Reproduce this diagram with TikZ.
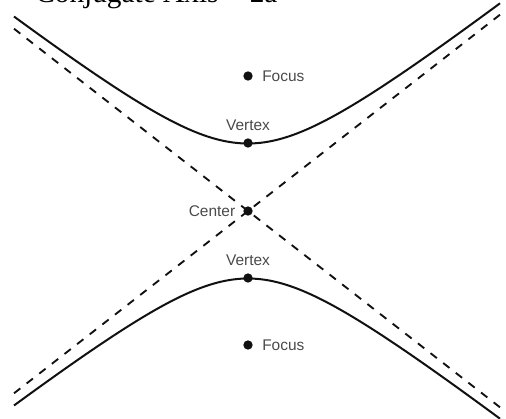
\documentclass[tikz,border=0pt]{standalone}
\usepackage{fontspec}
\setmainfont{Liberation Serif}
\setsansfont{Liberation Sans}
\usetikzlibrary{positioning}
\definecolor{ink}{HTML}{111111}
\definecolor{labelgray}{HTML}{4A4A4A}
\tikzset{
  dot/.style={circle,fill=ink,inner sep=0pt,minimum size=7pt},
  lbl/.style={font=\sffamily\fontsize{11.6}{12}\selectfont,text=labelgray,inner sep=0pt},
  branch/.style={ink,line width=1.5pt},
  asym/.style={ink,line width=1.4pt,dash pattern=on 6pt off 6pt}
}

\begin{document}
\begin{tikzpicture}[x=0.75pt,y=-0.75pt,line cap=butt,line join=round]
  \useasboundingbox (0,0) rectangle (506,418);
  % cut-off heading
  \node[anchor=base west,inner sep=0pt,font=\fontsize{22}{22}\selectfont] (heading) at (35,2) {Conjugate Axis = 2a};
  % asymptotes
  \coordinate (ul) at (14,28.7);  \coordinate (lr) at (500,407.3);
  \coordinate (ll) at (14,393.3); \coordinate (ur) at (500,14.7);
  \draw[asym] (ul) -- (lr);
  \draw[asym] (ll) -- (ur);
  % branches
  \draw[branch] plot[domain=-234:252,samples=121,smooth] ({248+\x},{211-67.5*sqrt(1+(\x/86.6)^2)});
  \draw[branch] plot[domain=-234:252,samples=121,smooth] ({248+\x},{211+67.5*sqrt(1+(\x/86.6)^2)});
  % points
  \node[dot] (ftop) at (248,76) {};
  \node[dot] (vtop) at (248,143) {};
  \node[dot] (ctr)  at (248,211) {};
  \node[dot] (vbot) at (248,278) {};
  \node[dot] (fbot) at (248,345) {};
  \node[lbl,right=6.8pt of ftop] (ftoplbl) {Focus};
  \node[lbl,right=6.8pt of fbot] (fbotlbl) {Focus};
  \node[lbl,above=5.5pt of vtop] (vtoplbl) {Vertex};
  \node[lbl,above=5.5pt of vbot] (vbotlbl) {Vertex};
  \node[lbl,left=5.7pt of ctr] (ctrlbl) {Center};
\end{tikzpicture}
\end{document}
